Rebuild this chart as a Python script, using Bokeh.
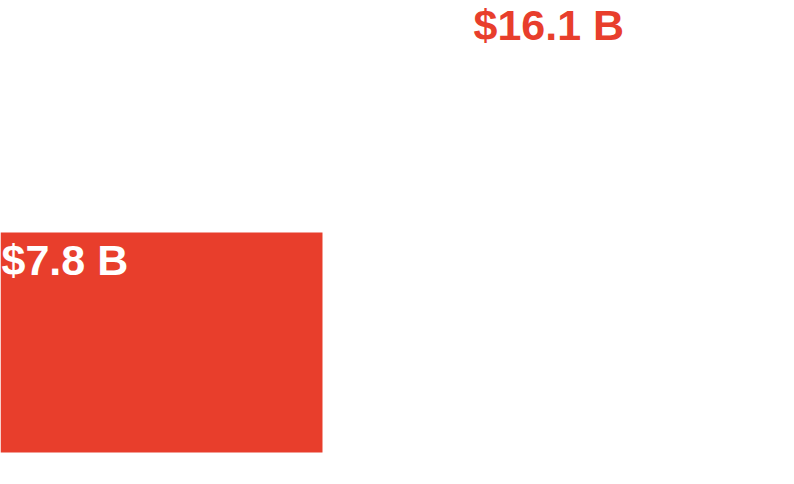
from bokeh.plotting import figure
from bokeh.models import ColumnDataSource, Range1d
from bokeh.core.properties import value
from bokeh.embed import file_html
from bokeh.resources import INLINE

# Data
positions = [0, 1]
amounts = [7.8, 16.1]
labels = ["$7.8 B", "$16.1 B"]
bar_colors = ["#e83e2c", "#ffffff"]
label_colors = ["#ffffff", "#e83e2c"]

BAR_W = 0.6822
src = ColumnDataSource(dict(
    x=positions,
    top=amounts,
    left=[p - BAR_W / 2 for p in positions],
    label=labels,
    bar_color=bar_colors,
    label_color=label_colors,
))

p = figure(width=794, height=484, output_backend="svg", toolbar_location=None,
           x_range=Range1d(-0.3411, 1.3411), y_range=Range1d(-1.135, 16.026),
           min_border=0, outline_line_color=None)
p.axis.visible = False
p.grid.visible = False
p.background_fill_color = "white"
p.border_fill_color = "white"

p.vbar(x="x", top="top", bottom=0, width=BAR_W, fill_color="bar_color",
       line_color=None, source=src)
p.text(x="left", y="top", text="label", text_color="label_color",
       text_font=value("Liberation Sans"), text_font_style="bold",
       text_font_size="43px", text_baseline="top", text_align="left",
       x_offset=1, y_offset=3, source=src)

open("out.html", "w").write(file_html(p, INLINE))
